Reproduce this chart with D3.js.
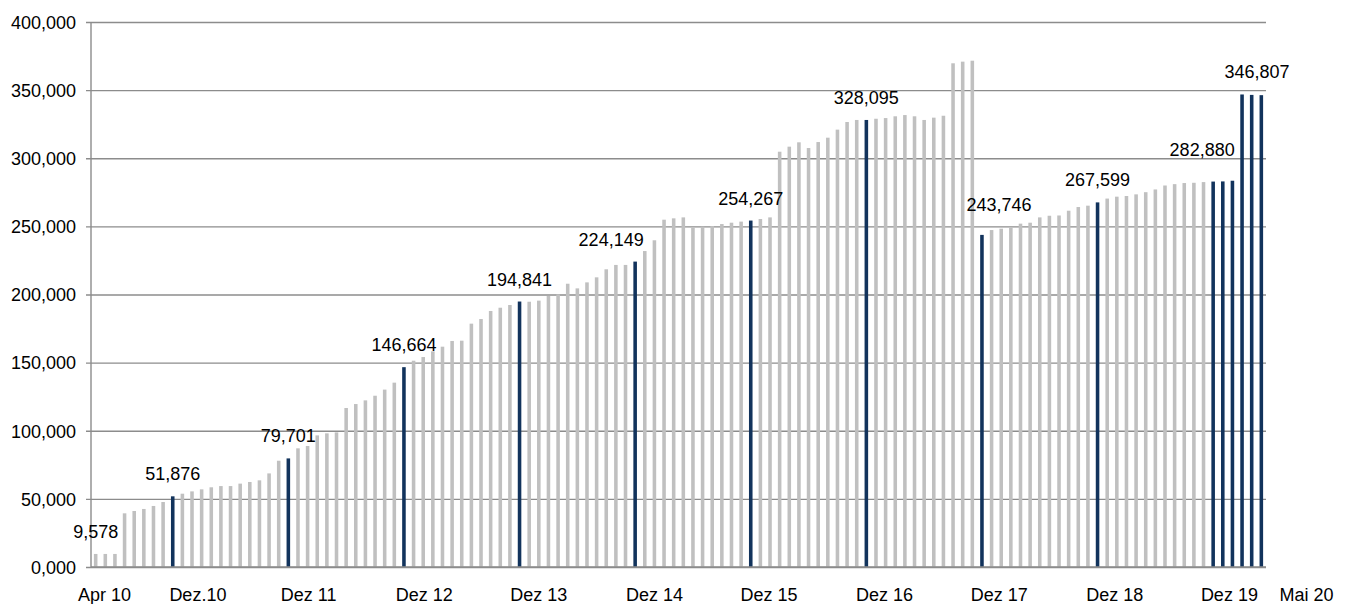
<!DOCTYPE html>
<html>
<head>
<meta charset="utf-8">
<script src="https://cdn.jsdelivr.net/npm/d3@7"></script>
<style>
  html, body { margin: 0; padding: 0; background: #fff; }
  #chart { width: 1347px; height: 604px; }
  text { font-family: "Liberation Sans", Arial, sans-serif; fill: #000; }
</style>
</head>
<body>
<div id="chart"></div>
<script>
// monthly values, Apr 2010 .. Mai 2020 (122 months)
const values = [
  9578, 9578, 9578, 39400, 41100, 42600, 44800, 47700, 51876,            // Apr10..Dez10
  53800, 55500, 57000, 58500, 59400, 59400, 61200, 62400, 63600, 68700, 78000, 79701,   // 2011
  87100, 88800, 96600, 98100, 98800, 116700, 119600, 122300, 125700, 130200, 135300, 146664, // 2012
  151400, 154100, 158300, 161700, 165900, 166100, 178600, 182000, 187900, 190300, 192300, 194841, // 2013
  194700, 195500, 198900, 200100, 207900, 204500, 208900, 212600, 218500, 221700, 221700, 224149, // 2014
  231900, 239800, 254900, 255900, 256600, 249100, 249800, 250200, 251700, 252700, 253500, 254267, // 2015
  255400, 256600, 304800, 308500, 311700, 307500, 311900, 315100, 321000, 326600, 328100, 328095, // 2016
  329000, 329500, 330800, 331700, 330800, 328100, 329800, 331200, 369700, 370900, 371600, 243746, // 2017
  247300, 248300, 249100, 252000, 252700, 256600, 257800, 258000, 261500, 264200, 265200, 267599, // 2018
  270400, 271800, 272300, 273500, 275100, 277100, 280000, 281000, 281800, 282000, 282500, 282880, // 2019
  283000, 283500, 346807, 346500, 346300                                   // Jan20..Mai20
];

// bars drawn in dark blue (December of each year + 2020)
const highlighted = [8, 20, 32, 44, 56, 68, 80, 92, 104, 116, 117, 118, 119, 120, 121];

// bars carrying a value label
const labelled = [0, 8, 20, 32, 44, 56, 68, 80, 92, 104, 116, 119];

const yTickValues = [0, 50000, 100000, 150000, 200000, 250000, 300000, 350000, 400000];
const yTickLabels = ["0,000", "50,000", "100,000", "150,000", "200,000", "250,000", "300,000", "350,000", "400,000"];

// x tick labels and where they sit, in month units
const xTickLabels = ["Apr 10", "Dez.10", "Dez 11", "Dez 12", "Dez 13", "Dez 14", "Dez 15", "Dez 16", "Dez 17", "Dez 18", "Dez 19", "Mai 20"];
const xTickMonths = [0.9, 10.6, 22.1, 34.1, 46.0, 58.0, 69.9, 81.9, 93.8, 105.8, 117.7, 125.7];

// a few labels were moved by hand in the original
const labelNudge = { 56: [-24, 0], 92: [17, -8], 116: [-11, -10], 119: [15, 0] };

const W = 1347, H = 604;
const margin = { left: 91, right: 81, top: 22, bottom: 37 };

const svg = d3.select("#chart").append("svg")
  .attr("width", W)
  .attr("height", H);

const idx = d3.range(values.length);

const x = d3.scaleBand()
  .domain(idx)
  .range([margin.left, W - margin.right])
  .paddingInner(0.63)
  .paddingOuter(0.3);

// continuous month scale for the free-standing axis labels
const xm = d3.scaleLinear()
  .domain([-0.5, values.length - 0.5])
  .range([margin.left, W - margin.right]);

const y = d3.scaleLinear()
  .domain([0, 400000])
  .range([H - margin.bottom, margin.top]);

// gridlines + y axis
const yAxis = d3.axisLeft(y)
  .tickValues(yTickValues)
  .tickFormat((d, i) => yTickLabels[i])
  .tickSize(0)
  .tickPadding(0);

const gy = svg.append("g")
  .attr("transform", `translate(${margin.left},0)`)
  .call(yAxis);
gy.select(".domain").remove();
gy.selectAll(".tick line").remove();
gy.selectAll(".tick").append("line")
  .attr("x1", -5)
  .attr("x2", W - margin.right - margin.left)
  .attr("stroke", "#8c8c8c")
  .attr("stroke-width", 1.4);
gy.selectAll(".tick text")
  .attr("x", -15)
  .attr("dy", "0.35em")
  .style("font-size", "18px")
  .style("font-family", "'Liberation Sans', Arial, sans-serif")
  .attr("fill", "#000");

// y axis line
svg.append("line")
  .attr("x1", margin.left).attr("x2", margin.left)
  .attr("y1", y(400000)).attr("y2", y(0))
  .attr("stroke", "#8c8c8c")
  .attr("stroke-width", 1.4);

// bars
const hl = new Set(highlighted);
svg.append("g").selectAll("rect")
  .data(idx)
  .join("rect")
    .attr("x", i => x(i))
    .attr("y", i => y(values[i]))
    .attr("width", x.bandwidth())
    .attr("height", i => y(0) - y(values[i]))
    .attr("fill", i => hl.has(i) ? "#12335c" : "#c0c0c0");

// baseline over the bar feet
svg.append("line")
  .attr("x1", margin.left).attr("x2", W - margin.right)
  .attr("y1", y(0)).attr("y2", y(0))
  .attr("stroke", "#8c8c8c")
  .attr("stroke-width", 1.4);

// value labels
const fmt = d3.format(",");
svg.append("g").selectAll("text")
  .data(labelled)
  .join("text")
    .attr("x", i => x(i) + x.bandwidth() / 2 + (labelNudge[i] ? labelNudge[i][0] : 0))
    .attr("y", i => y(values[i]) - 16 + (labelNudge[i] ? labelNudge[i][1] : 0))
    .attr("text-anchor", "middle")
    .style("font-size", "18px")
    .text(i => fmt(values[i]));

// x labels
svg.append("g").selectAll("text")
  .data(xTickLabels)
  .join("text")
    .attr("x", (d, i) => xm(xTickMonths[i]))
    .attr("y", H - 3)
    .attr("text-anchor", "middle")
    .style("font-size", "18px")
    .text(d => d);
</script>
</body>
</html>
